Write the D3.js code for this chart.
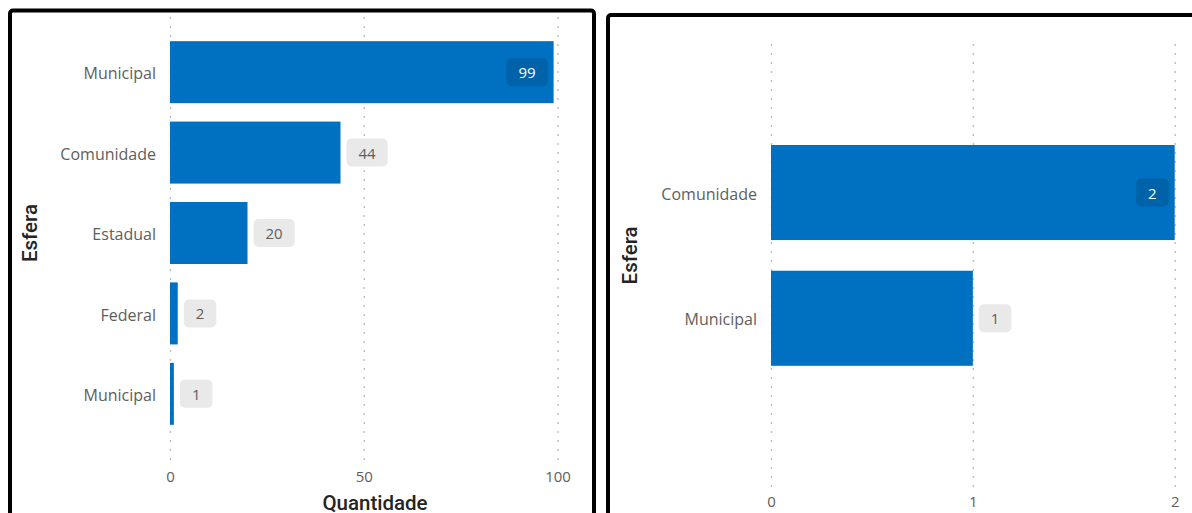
<!DOCTYPE html>
<html>
<head>
<meta charset="utf-8">
<script src="https://cdn.jsdelivr.net/npm/d3@7"></script>
<style>
  html, body { margin: 0; padding: 0; background: #fff; }
  svg { display: block; }
</style>
</head>
<body>
<svg id="chart" width="1192" height="513"></svg>
<script>
// Quantidade por esfera — painel da esquerda
const leftCategories = ["Municipal", "Comunidade", "Estadual", "Federal", "Municipal"];
const leftValues = [99, 44, 20, 2, 1];
const leftTicks = [0, 50, 100];

// Quantidade por esfera — painel da direita
const rightCategories = ["Comunidade", "Municipal"];
const rightValues = [2, 1];
const rightTicks = [0, 1, 2];

const BAR = "#0070C0";
const BAR_LABEL_BG = "#0062A9";
const OUT_LABEL_BG = "#E9E9E9";
const TEXT_GRAY = "#605E5C";
const TITLE = "#252423";
const LABEL_FONT = "'Open Sans', 'Noto Sans', sans-serif";
const TITLE_FONT = "Roboto, 'DejaVu Sans', sans-serif";

const svg = d3.select("#chart");

// Panel frames
svg.append("rect").attr("x", 10).attr("y", 10.5).attr("width", 584).attr("height", 540)
  .attr("rx", 3).attr("fill", "#fff").attr("stroke", "#000").attr("stroke-width", 4);
svg.append("rect").attr("x", 608).attr("y", 15).attr("width", 620).attr("height", 540)
  .attr("rx", 3).attr("fill", "#fff").attr("stroke", "#000").attr("stroke-width", 4);

function drawPanel(cfg) {
  const g = svg.append("g");
  const x = d3.scaleLinear().domain(cfg.domain).range(cfg.xRange);
  const y = d3.scaleBand()
    .domain(cfg.categories.map((_, i) => i))
    .range(cfg.yRange)
    .paddingInner(cfg.padInner)
    .paddingOuter(cfg.padOuter);

  // dotted vertical gridlines + tick labels
  const xAxis = g.append("g")
    .attr("transform", `translate(0,${cfg.gridBottom})`)
    .call(d3.axisBottom(x).tickValues(cfg.ticks).tickFormat(d3.format("d"))
      .tickSize(-(cfg.gridBottom - cfg.gridTop)));
  xAxis.select(".domain").remove();
  xAxis.selectAll(".tick line")
    .attr("stroke", "#BDBDBD").attr("stroke-width", 1.4).attr("stroke-dasharray", "2,7");
  xAxis.selectAll(".tick text")
    .attr("y", cfg.tickLabelOffset).attr("dy", "0.35em")
    .attr("fill", TEXT_GRAY).attr("font-family", LABEL_FONT).attr("font-size", 15);

  // category labels
  const yAxis = g.append("g")
    .attr("transform", `translate(${cfg.xRange[0]},0)`)
    .call(d3.axisLeft(y).tickSize(0).tickPadding(14).tickFormat(i => cfg.categories[i]));
  yAxis.select(".domain").remove();
  yAxis.selectAll(".tick text")
    .attr("dy", "0.45em")
    .attr("fill", TEXT_GRAY).attr("font-family", LABEL_FONT).attr("font-size", 16);

  // bars
  g.append("g").selectAll("rect")
    .data(cfg.values)
    .join("rect")
    .attr("x", x(0))
    .attr("y", (d, i) => y(i))
    .attr("width", d => x(d) - x(0))
    .attr("height", y.bandwidth())
    .attr("fill", BAR);

  // data labels
  const labels = g.append("g").selectAll("g")
    .data(cfg.values)
    .join("g");
  labels.each(function (d, i) {
    const lg = d3.select(this);
    const txt = lg.append("text")
      .text(d)
      .attr("font-family", LABEL_FONT)
      .attr("font-size", 15)
      .attr("dy", "0.4em")
      .attr("text-anchor", "middle");
    const tw = txt.node().getComputedTextLength();
    const bw = tw + 24, bh = 28;
    const end = x(d);
    const inside = end + 6 + bw > cfg.labelLimit;
    const bx = inside ? end - 6 - bw : end + 6;
    const cy = y(i) + y.bandwidth() / 2;
    lg.insert("rect", "text")
      .attr("x", bx).attr("y", cy - bh / 2)
      .attr("width", bw).attr("height", bh).attr("rx", 5)
      .attr("fill", inside ? BAR_LABEL_BG : OUT_LABEL_BG);
    txt.attr("x", bx + bw / 2).attr("y", cy)
      .attr("fill", inside ? "#fff" : TEXT_GRAY);
  });

  // axis titles
  g.append("text")
    .attr("transform", `translate(${cfg.yTitleX},${(cfg.yRange[0] + cfg.yRange[1]) / 2}) rotate(-90)`)
    .attr("text-anchor", "middle").attr("dy", "0.35em")
    .attr("font-family", TITLE_FONT).attr("font-weight", 500).attr("font-size", 20.5)
    .attr("fill", TITLE)
    .text("Esfera");
  if (cfg.xTitleY) {
    g.append("text")
      .attr("x", cfg.xTitleX).attr("y", cfg.xTitleY)
      .attr("text-anchor", "middle").attr("dy", "0.35em")
      .attr("font-family", TITLE_FONT).attr("font-weight", 500).attr("font-size", 20.5)
      .attr("fill", TITLE)
      .text("Quantidade");
  }
}

drawPanel({
  categories: leftCategories,
  values: leftValues,
  ticks: leftTicks,
  domain: [0, 100],
  xRange: [170, 557.5],
  yRange: [32, 434],
  padInner: 0.229,
  padOuter: 0.114,
  gridTop: 15,
  gridBottom: 460,
  tickLabelOffset: 17,
  labelLimit: 580,
  yTitleX: 30,
  xTitleX: 375,
  xTitleY: 503
});

drawPanel({
  categories: rightCategories,
  values: rightValues,
  ticks: rightTicks,
  domain: [0, 2],
  xRange: [771, 1174.7],
  yRange: [65.4, 445.4],
  padInner: 0.244,
  padOuter: 0.633,
  gridTop: 37,
  gridBottom: 487,
  tickLabelOffset: 15,
  labelLimit: 1190,
  yTitleX: 630,
  xTitleY: null
});
</script>
</body>
</html>
